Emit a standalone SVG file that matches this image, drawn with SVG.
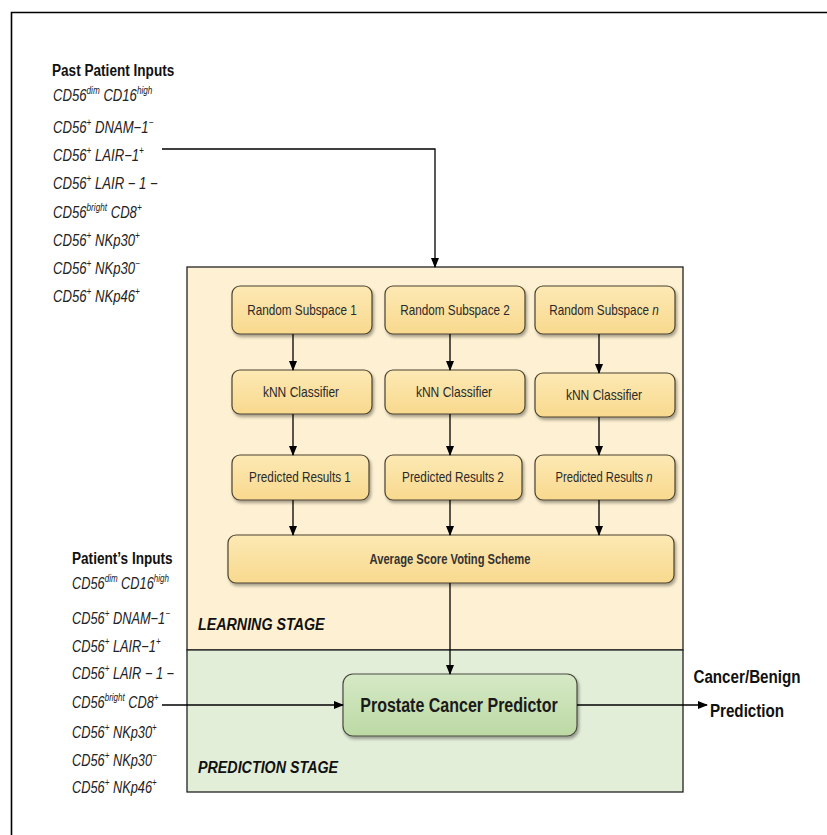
<svg xmlns="http://www.w3.org/2000/svg" width="827" height="835" viewBox="0 0 827 835">
<defs>
<style>
.frame{fill:none;stroke:#000;stroke-width:1.6}
.stage{stroke:#222;stroke-width:1.3}
.node{fill:url(#yel);stroke:#4a4330;stroke-width:1.2;filter:url(#sh)}
.pnode{fill:url(#grn);stroke:#4a4a40;stroke-width:1.2;filter:url(#sh)}
.nt{font-family:"Liberation Sans",Arial,sans-serif;font-size:14px;fill:#2a2a2a;text-anchor:middle}
.big{font-size:20px;font-weight:bold;fill:#1a1a1a}
.inp{font-family:"Liberation Sans",Arial,sans-serif;font-size:16px;font-style:italic;fill:#222}
.sup{font-size:10px}
.hd{font-family:"Liberation Sans",Arial,sans-serif;font-size:16px;font-weight:bold;fill:#111}
.out{font-size:19px;text-anchor:middle}
.stg{font-family:"Liberation Sans",Arial,sans-serif;font-size:17px;font-weight:bold;font-style:italic;fill:#111}
.conn{fill:none;stroke:#000;stroke-width:1.3;marker-end:url(#ah)}
</style>
<linearGradient id="yel" x1="0" y1="0" x2="0" y2="1">
<stop offset="0" stop-color="#fde9b4"/><stop offset="1" stop-color="#f8d98e"/>
</linearGradient>
<linearGradient id="grn" x1="0" y1="0" x2="0" y2="1">
<stop offset="0" stop-color="#d6e9c6"/><stop offset="1" stop-color="#bcd9a4"/>
</linearGradient>
<filter id="sh" x="-10%" y="-20%" width="125%" height="150%">
<feDropShadow dx="1.5" dy="2.5" stdDeviation="1.8" flood-color="#000" flood-opacity="0.35"/>
</filter>
<marker id="ah" markerWidth="10" markerHeight="8" refX="9" refY="4" orient="auto" markerUnits="userSpaceOnUse">
<path d="M0,0 L10,4 L0,8 Z" fill="#000"/>
</marker>
</defs>

<path class="frame" d="M11.5,835 L11.5,12.5 L827,12.5"/>

<g id="learning-stage">
<rect class="stage" x="187" y="267" width="496" height="383" fill="#fef1d3"/>
<g transform="translate(198,630) scale(0.84,1)"><text class="stg" x="0" y="0">LEARNING STAGE</text></g>
</g>
<g id="prediction-stage">
<rect class="stage" x="187" y="650" width="496" height="142" fill="#e3eed9"/>
<g transform="translate(198,773) scale(0.84,1)"><text class="stg" x="0" y="0">PREDICTION STAGE</text></g>
</g>

<g id="past-inputs">
<g transform="translate(52,76) scale(0.8,1)"><text class="hd" x="0" y="0" style="font-size:17px">Past Patient Inputs</text></g>
<g transform="translate(53,0) scale(0.82,1)">
<text class="inp" x="0" y="101">CD56<tspan class="sup" dy="-7">dim</tspan><tspan dy="7"> CD16</tspan><tspan class="sup" dy="-7">high</tspan></text>
<text class="inp" x="0" y="133">CD56<tspan class="sup" dy="-7">+</tspan><tspan dy="7"> DNAM−1</tspan><tspan class="sup" dy="-7">−</tspan></text>
<text class="inp" x="0" y="161">CD56<tspan class="sup" dy="-7">+</tspan><tspan dy="7"> LAIR−1</tspan><tspan class="sup" dy="-7">+</tspan></text>
<text class="inp" x="0" y="189">CD56<tspan class="sup" dy="-7">+</tspan><tspan dy="7"> LAIR − 1 −</tspan></text>
<text class="inp" x="0" y="218">CD56<tspan class="sup" dy="-7">bright</tspan><tspan dy="7"> CD8</tspan><tspan class="sup" dy="-7">+</tspan></text>
<text class="inp" x="0" y="246">CD56<tspan class="sup" dy="-7">+</tspan><tspan dy="7"> NKp30</tspan><tspan class="sup" dy="-7">+</tspan></text>
<text class="inp" x="0" y="274">CD56<tspan class="sup" dy="-7">+</tspan><tspan dy="7"> NKp30</tspan><tspan class="sup" dy="-7">−</tspan></text>
<text class="inp" x="0" y="302">CD56<tspan class="sup" dy="-7">+</tspan><tspan dy="7"> NKp46</tspan><tspan class="sup" dy="-7">+</tspan></text>
</g>
</g>

<g id="patient-inputs">
<g transform="translate(72,564) scale(0.8,1)"><text class="hd" x="0" y="0" style="font-size:17px">Patient’s Inputs</text></g>
<g transform="translate(72,0) scale(0.8,1)">
<text class="inp" x="0" y="589">CD56<tspan class="sup" dy="-7">dim</tspan><tspan dy="7"> CD16</tspan><tspan class="sup" dy="-7">high</tspan></text>
<text class="inp" x="0" y="624">CD56<tspan class="sup" dy="-7">+</tspan><tspan dy="7"> DNAM−1</tspan><tspan class="sup" dy="-7">−</tspan></text>
<text class="inp" x="0" y="652">CD56<tspan class="sup" dy="-7">+</tspan><tspan dy="7"> LAIR−1</tspan><tspan class="sup" dy="-7">+</tspan></text>
<text class="inp" x="0" y="679">CD56<tspan class="sup" dy="-7">+</tspan><tspan dy="7"> LAIR − 1 −</tspan></text>
<text class="inp" x="0" y="708">CD56<tspan class="sup" dy="-7">bright</tspan><tspan dy="7"> CD8</tspan><tspan class="sup" dy="-7">+</tspan></text>
<text class="inp" x="0" y="738">CD56<tspan class="sup" dy="-7">+</tspan><tspan dy="7"> NKp30</tspan><tspan class="sup" dy="-7">+</tspan></text>
<text class="inp" x="0" y="766">CD56<tspan class="sup" dy="-7">+</tspan><tspan dy="7"> NKp30</tspan><tspan class="sup" dy="-7">−</tspan></text>
<text class="inp" x="0" y="793">CD56<tspan class="sup" dy="-7">+</tspan><tspan dy="7"> NKp46</tspan><tspan class="sup" dy="-7">+</tspan></text>
</g>
</g>

<g id="rs1"><rect class="node" x="232" y="286" width="140" height="48" rx="8"/><g transform="translate(302,315) scale(0.84,1)"><text class="nt" x="0" y="0">Random Subspace 1</text></g></g>
<g id="rs2"><rect class="node" x="385" y="286" width="140" height="48" rx="8"/><g transform="translate(455,315) scale(0.84,1)"><text class="nt" x="0" y="0">Random Subspace 2</text></g></g>
<g id="rsn"><rect class="node" x="535" y="286" width="140" height="48" rx="8"/><g transform="translate(604,315) scale(0.84,1)"><text class="nt" x="0" y="0">Random Subspace <tspan font-style="italic">n</tspan></text></g></g>

<g id="knn1"><rect class="node" x="232" y="370" width="140" height="44" rx="8"/><g transform="translate(301,397) scale(0.86,1)"><text class="nt" x="0" y="0">kNN Classifier</text></g></g>
<g id="knn2"><rect class="node" x="385" y="370" width="140" height="44" rx="8"/><g transform="translate(454,397) scale(0.86,1)"><text class="nt" x="0" y="0">kNN Classifier</text></g></g>
<g id="knnn"><rect class="node" x="535" y="373" width="140" height="44" rx="8"/><g transform="translate(604,400) scale(0.86,1)"><text class="nt" x="0" y="0">kNN Classifier</text></g></g>

<g id="pr1"><rect class="node" x="232" y="455" width="137" height="45" rx="8"/><g transform="translate(300,482) scale(0.84,1)"><text class="nt" x="0" y="0">Predicted Results 1</text></g></g>
<g id="pr2"><rect class="node" x="385" y="455" width="137" height="45" rx="8"/><g transform="translate(453,482) scale(0.84,1)"><text class="nt" x="0" y="0">Predicted Results 2</text></g></g>
<g id="prn"><rect class="node" x="535" y="455" width="140" height="45" rx="8"/><g transform="translate(604,482) scale(0.8,1)"><text class="nt" x="0" y="0">Predicted Results <tspan font-style="italic">n</tspan></text></g></g>

<g id="avg"><rect class="node" x="228" y="535" width="446" height="48" rx="8"/><g transform="translate(450,564) scale(0.8,1)"><text class="nt" x="0" y="0" style="font-weight:bold;fill:#333">Average Score Voting Scheme</text></g></g>

<g id="predictor"><rect class="pnode" x="343" y="674" width="234" height="62" rx="10"/><g transform="translate(459,712) scale(0.8,1)"><text class="nt big" x="0" y="0">Prostate Cancer Predictor</text></g></g>

<g id="output">
<g transform="translate(747,683) scale(0.8,1)"><text class="hd out" x="0" y="0">Cancer/Benign</text></g>
<g transform="translate(747,717) scale(0.8,1)"><text class="hd out" x="0" y="0">Prediction</text></g>
</g>

<g id="connectors">
<path class="conn" d="M162,149 L435,149 L435,267"/>
<path class="conn" d="M293,334 L293,370"/>
<path class="conn" d="M450,334 L450,370"/>
<path class="conn" d="M599,334 L599,373"/>
<path class="conn" d="M293,414 L293,455"/>
<path class="conn" d="M450,414 L450,455"/>
<path class="conn" d="M599,417 L599,455"/>
<path class="conn" d="M293,500 L293,535"/>
<path class="conn" d="M450,500 L450,535"/>
<path class="conn" d="M599,500 L599,535"/>
<path class="conn" d="M450,583 L450,674"/>
<path class="conn" d="M162,705 L343,705"/>
<path class="conn" d="M577,705 L707,705"/>
</g>
</svg>
